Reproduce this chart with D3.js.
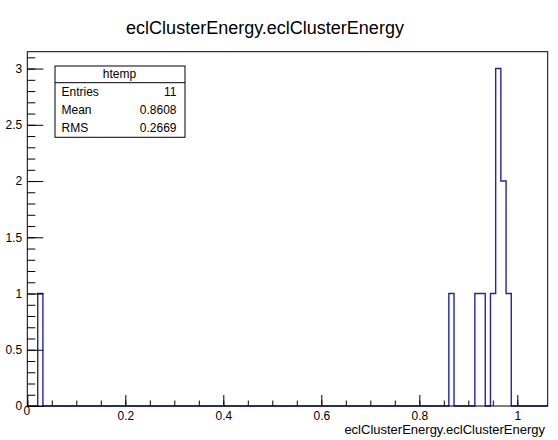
<!DOCTYPE html>
<html>
<head>
<meta charset="utf-8">
<script src="https://cdn.jsdelivr.net/npm/d3@7"></script>
<style>
  html, body { margin: 0; padding: 0; background: #fff; }
  svg { display: block; }
  text { font-family: "Liberation Sans", Helvetica, Arial, sans-serif; fill: #000; }
</style>
</head>
<body>
<svg id="chart" width="558" height="440"></svg>
<script>
// Histogram definition: 100 equal bins over [xMin, xMax]
const histTitle = "eclClusterEnergy.eclClusterEnergy";
const axisTitle = "eclClusterEnergy.eclClusterEnergy";
const xMin = 0;
const xMax = 1.062;
const nBins = 100;
const yMax = 3.15;

// Filled bins (bin index) and their entries
const filledBins = [2, 81, 86, 87, 89, 90, 91, 92];
const binCounts  = [1, 1, 1, 1, 1, 3, 2, 1];

// Tick values
const xMajorTicks = [0, 0.2, 0.4, 0.6, 0.8, 1];
const xMinorTicks = d3.range(0, 21).map(i => i * 0.05).filter(v => v <= xMax);
const yMajorTicks = [0, 0.5, 1, 1.5, 2, 2.5, 3];
const yMinorTicks = d3.range(0, 32).map(i => i * 0.1).filter(v => v <= yMax);

// Stats box contents
const statLabels = ["Entries", "Mean", "RMS"];
const statValues = ["11", "0.8608", "0.2669"];
const statName = "htemp";

const svg = d3.select("#chart");
const frame = { left: 27.3, right: 547.7, top: 51.7, bottom: 406 };

const x = d3.scaleLinear().domain([xMin, xMax]).range([frame.left, frame.right]);
const y = d3.scaleLinear().domain([0, yMax]).range([frame.bottom, frame.top]);

// Full bin content array
const counts = new Array(nBins).fill(0);
filledBins.forEach((b, i) => { counts[b] = binCounts[i]; });
const binW = (xMax - xMin) / nBins;

// Background
svg.append("rect").attr("width", 558).attr("height", 440).attr("fill", "#fff");

// Title
svg.append("text")
  .attr("x", 265).attr("y", 33.5)
  .attr("text-anchor", "middle")
  .style("font-size", "18px")
  .text(histTitle);

// Step outline of the histogram
const pts = [];
pts.push([x(xMin), y(0)]);
counts.forEach((c, i) => {
  const x0 = xMin + i * binW, x1 = x0 + binW;
  pts.push([x(x0), y(c)]);
  pts.push([x(x1), y(c)]);
});
pts.push([x(xMax), y(0)]);
svg.append("path")
  .attr("d", d3.line()(pts))
  .attr("fill", "none")
  .attr("stroke", "#2323b4")
  .attr("stroke-width", 1.4)
  .attr("stroke-linejoin", "miter");

// Axes: ticks point into the frame
const fmt = d => d3.format("~g")(d);

const gx = svg.append("g").attr("transform", `translate(0,${frame.bottom})`);
gx.append("g").call(d3.axisBottom(x).tickValues(xMinorTicks).tickSizeInner(-5.5).tickSizeOuter(0).tickFormat(""));
const gxMajor = gx.append("g").call(d3.axisBottom(x).tickValues(xMajorTicks).tickSizeInner(-11).tickSizeOuter(0).tickPadding(5.5).tickFormat(fmt));
// origin label sits a little higher, next to the y-axis zero
gxMajor.selectAll(".tick").filter(d => d === 0).select("text").attr("y", 0.5).attr("x", -1);

const gy = svg.append("g").attr("transform", `translate(${frame.left},0)`);
gy.append("g").call(d3.axisLeft(y).tickValues(yMinorTicks).tickSizeInner(-8).tickSizeOuter(0).tickFormat(""));
gy.append("g").call(d3.axisLeft(y).tickValues(yMajorTicks).tickSizeInner(-16).tickSizeOuter(0).tickPadding(5).tickFormat(fmt));

svg.selectAll(".domain").remove();
svg.selectAll(".tick line").attr("stroke", "#000").attr("stroke-width", 1);
svg.selectAll(".tick text").style("font-size", "12px").style("font-family", null).attr("fill", "#000");

// Frame
svg.append("rect")
  .attr("x", frame.left).attr("y", frame.top)
  .attr("width", frame.right - frame.left).attr("height", frame.bottom - frame.top)
  .attr("fill", "none").attr("stroke", "#000").attr("stroke-width", 1);

// X axis title
svg.append("text")
  .attr("x", 545).attr("y", 434)
  .attr("text-anchor", "end")
  .style("font-size", "13px")
  .text(axisTitle);

// Stats box
const box = { x: 55, y: 66, w: 130, headH: 16.7, rowH: 18.2 };
const boxH = box.headH + statLabels.length * box.rowH;
svg.append("rect")
  .attr("x", box.x).attr("y", box.y).attr("width", box.w).attr("height", boxH)
  .attr("fill", "#fff").attr("stroke", "#000").attr("stroke-width", 1);
svg.append("line")
  .attr("x1", box.x).attr("x2", box.x + box.w)
  .attr("y1", box.y + box.headH).attr("y2", box.y + box.headH)
  .attr("stroke", "#000");
svg.append("text")
  .attr("x", box.x + box.w / 2 - 0.5).attr("y", box.y + 12)
  .attr("text-anchor", "middle").style("font-size", "12px")
  .text(statName);
statLabels.forEach((lab, i) => {
  const by = box.y + box.headH + box.rowH * (i + 1) - 5;
  svg.append("text").attr("x", box.x + 6.5).attr("y", by).style("font-size", "12px").text(lab);
  svg.append("text").attr("x", box.x + box.w - 8.5).attr("y", by)
    .attr("text-anchor", "end").style("font-size", "12px").text(statValues[i]);
});
</script>
</body>
</html>
